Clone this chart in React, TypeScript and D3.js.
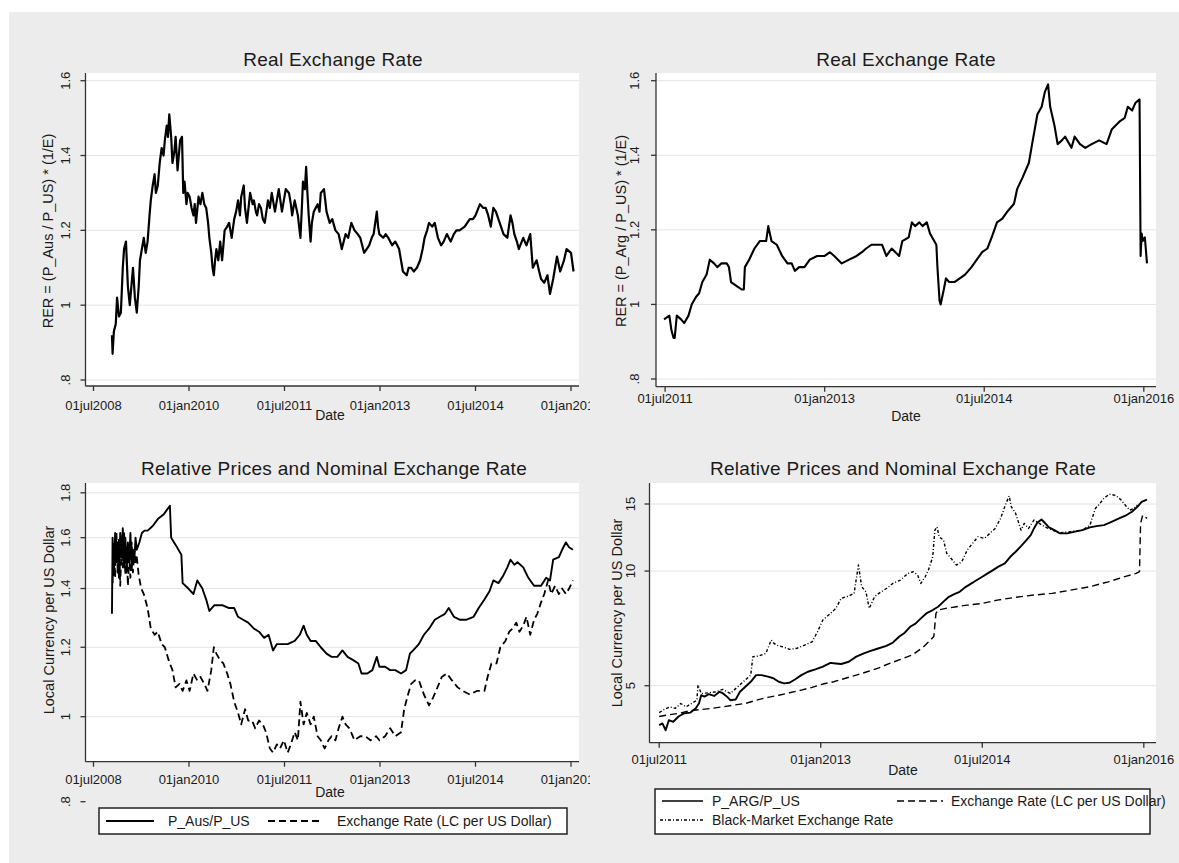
import React from "react";
import * as d3 from "d3";

type Pt = [number, number];

const FONT = "'Liberation Sans', Arial, Helvetica, sans-serif";
const INK = "#1a1a1a";

// ---------- Data (decimal year, value) ----------
const ausRER: Pt[] = [
  [2008.79,0.92],[2008.80,0.87],[2008.82,0.93],[2008.85,0.95],[2008.87,1.02],[2008.90,0.97],[2008.93,0.98],[2008.96,1.10],[2008.98,1.15],[2009.01,1.17],
  [2009.04,1.05],[2009.07,1.00],[2009.10,1.06],[2009.12,1.10],[2009.15,1.02],[2009.18,0.98],[2009.21,1.05],[2009.23,1.12],[2009.26,1.15],[2009.29,1.18],
  [2009.32,1.14],[2009.35,1.17],[2009.38,1.24],[2009.40,1.28],[2009.43,1.32],[2009.46,1.35],[2009.48,1.30],[2009.51,1.32],[2009.54,1.38],[2009.57,1.42],
  [2009.60,1.40],[2009.62,1.44],[2009.65,1.48],[2009.67,1.45],[2009.69,1.51],[2009.72,1.45],[2009.74,1.38],[2009.77,1.41],[2009.79,1.45],[2009.82,1.36],
  [2009.84,1.40],[2009.86,1.44],[2009.89,1.45],[2009.91,1.30],[2009.93,1.33],[2009.96,1.27],[2009.98,1.30],[2010.01,1.29],[2010.04,1.26],[2010.07,1.24],
  [2010.09,1.27],[2010.11,1.22],[2010.15,1.29],[2010.18,1.27],[2010.21,1.30],[2010.24,1.27],[2010.27,1.26],[2010.30,1.22],[2010.32,1.18],[2010.35,1.14],
  [2010.37,1.10],[2010.39,1.08],[2010.41,1.12],[2010.43,1.15],[2010.46,1.12],[2010.49,1.17],[2010.52,1.12],[2010.56,1.20],[2010.60,1.21],[2010.63,1.22],
  [2010.67,1.18],[2010.71,1.23],[2010.74,1.25],[2010.77,1.28],[2010.80,1.24],[2010.82,1.29],[2010.86,1.32],[2010.88,1.26],[2010.91,1.22],[2010.96,1.30],
  [2011.00,1.27],[2011.02,1.28],[2011.05,1.25],[2011.07,1.24],[2011.10,1.27],[2011.13,1.26],[2011.16,1.23],[2011.19,1.22],[2011.24,1.28],[2011.27,1.26],
  [2011.30,1.30],[2011.35,1.25],[2011.38,1.28],[2011.41,1.31],[2011.46,1.25],[2011.49,1.28],[2011.52,1.31],[2011.57,1.30],[2011.60,1.27],[2011.62,1.24],
  [2011.66,1.28],[2011.71,1.24],[2011.75,1.18],[2011.77,1.25],[2011.79,1.33],[2011.82,1.31],[2011.84,1.37],[2011.86,1.30],[2011.88,1.24],[2011.91,1.17],
  [2011.93,1.22],[2011.96,1.25],[2012.02,1.27],[2012.05,1.25],[2012.07,1.30],[2012.12,1.31],[2012.14,1.28],[2012.16,1.25],[2012.21,1.22],[2012.25,1.23],
  [2012.30,1.20],[2012.35,1.19],[2012.40,1.15],[2012.43,1.17],[2012.46,1.19],[2012.50,1.18],[2012.55,1.22],[2012.60,1.20],[2012.65,1.19],[2012.69,1.18],
  [2012.72,1.16],[2012.75,1.14],[2012.79,1.15],[2012.83,1.16],[2012.87,1.18],[2012.90,1.19],[2012.95,1.25],[2012.97,1.21],[2012.99,1.19],[2013.05,1.18],
  [2013.09,1.19],[2013.13,1.18],[2013.16,1.17],[2013.19,1.16],[2013.24,1.17],[2013.30,1.15],[2013.33,1.12],[2013.36,1.09],[2013.42,1.08],[2013.45,1.10],
  [2013.49,1.10],[2013.53,1.09],[2013.58,1.10],[2013.63,1.12],[2013.67,1.15],[2013.70,1.18],[2013.74,1.20],[2013.77,1.22],[2013.82,1.21],[2013.86,1.22],
  [2013.91,1.18],[2013.96,1.16],[2014.00,1.17],[2014.05,1.19],[2014.11,1.17],[2014.16,1.19],[2014.20,1.20],[2014.25,1.20],[2014.33,1.21],[2014.37,1.22],
  [2014.41,1.23],[2014.46,1.23],[2014.50,1.24],[2014.57,1.27],[2014.62,1.26],[2014.66,1.26],[2014.70,1.24],[2014.74,1.21],[2014.78,1.26],[2014.82,1.25],
  [2014.86,1.23],[2014.90,1.21],[2014.94,1.19],[2015.00,1.18],[2015.05,1.24],[2015.08,1.22],[2015.11,1.19],[2015.15,1.17],[2015.18,1.15],[2015.25,1.18],
  [2015.30,1.16],[2015.36,1.19],[2015.40,1.10],[2015.46,1.12],[2015.50,1.09],[2015.53,1.07],[2015.58,1.06],[2015.63,1.08],[2015.67,1.03],[2015.72,1.07],
  [2015.78,1.13],[2015.83,1.09],[2015.89,1.12],[2015.93,1.15],[2016.00,1.14],[2016.04,1.09],
];

const argRER: Pt[] = [
  [2011.49,0.96],[2011.54,0.97],[2011.56,0.93],[2011.58,0.91],[2011.59,0.91],[2011.61,0.97],[2011.65,0.96],[2011.68,0.95],[2011.72,0.97],[2011.75,1.00],
  [2011.79,1.02],[2011.82,1.03],[2011.85,1.06],[2011.89,1.08],[2011.92,1.12],[2011.96,1.11],[2011.99,1.10],[2012.03,1.11],[2012.08,1.11],[2012.10,1.10],
  [2012.12,1.06],[2012.17,1.05],[2012.22,1.04],[2012.24,1.04],[2012.25,1.10],[2012.29,1.12],[2012.34,1.15],[2012.39,1.17],[2012.45,1.17],[2012.47,1.21],
  [2012.50,1.17],[2012.55,1.16],[2012.60,1.13],[2012.65,1.11],[2012.69,1.11],[2012.72,1.09],[2012.76,1.10],[2012.81,1.10],[2012.86,1.12],[2012.93,1.13],
  [2013.00,1.13],[2013.05,1.14],[2013.09,1.13],[2013.16,1.11],[2013.23,1.12],[2013.30,1.13],[2013.35,1.14],[2013.39,1.15],[2013.44,1.16],[2013.49,1.16],
  [2013.54,1.16],[2013.58,1.13],[2013.63,1.15],[2013.70,1.13],[2013.73,1.17],[2013.79,1.18],[2013.82,1.22],[2013.85,1.21],[2013.89,1.22],[2013.92,1.21],
  [2013.96,1.22],[2013.99,1.19],[2014.05,1.16],[2014.06,1.10],[2014.08,1.01],[2014.09,1.00],[2014.12,1.04],[2014.14,1.07],[2014.17,1.06],[2014.22,1.06],
  [2014.27,1.07],[2014.32,1.08],[2014.38,1.10],[2014.43,1.12],[2014.48,1.14],[2014.53,1.15],[2014.57,1.18],[2014.62,1.22],[2014.67,1.23],[2014.72,1.25],
  [2014.78,1.27],[2014.81,1.31],[2014.86,1.34],[2014.92,1.38],[2014.95,1.43],[2015.00,1.51],[2015.04,1.53],[2015.07,1.57],[2015.10,1.59],[2015.12,1.53],
  [2015.16,1.48],[2015.19,1.43],[2015.23,1.44],[2015.26,1.45],[2015.32,1.42],[2015.35,1.45],[2015.40,1.43],[2015.45,1.42],[2015.51,1.43],[2015.58,1.44],
  [2015.65,1.43],[2015.70,1.47],[2015.77,1.49],[2015.82,1.50],[2015.85,1.53],[2015.89,1.52],[2015.92,1.54],[2015.96,1.55],[2015.97,1.13],[2015.98,1.19],
  [2015.99,1.17],[2016.01,1.18],[2016.03,1.11],
];

const ausRelPrice: Pt[] = [
  [2008.79,1.31],[2008.80,1.60],[2008.82,1.45],[2008.84,1.62],[2008.86,1.50],[2008.88,1.58],[2008.90,1.44],[2008.92,1.62],[2008.94,1.52],[2008.96,1.64],
  [2008.98,1.48],[2009.00,1.60],[2009.02,1.46],[2009.04,1.58],[2009.06,1.50],[2009.08,1.62],[2009.10,1.47],[2009.12,1.55],[2009.14,1.50],[2009.16,1.60],
  [2009.18,1.55],[2009.22,1.58],[2009.26,1.62],[2009.30,1.63],[2009.35,1.63],[2009.43,1.65],[2009.51,1.68],[2009.60,1.70],[2009.65,1.72],[2009.70,1.74],
  [2009.72,1.60],[2009.79,1.57],[2009.88,1.53],[2009.90,1.42],[2009.99,1.40],[2010.07,1.38],[2010.13,1.43],[2010.21,1.40],[2010.27,1.36],[2010.32,1.32],
  [2010.40,1.34],[2010.52,1.34],[2010.63,1.33],[2010.71,1.33],[2010.77,1.30],[2010.85,1.29],[2010.93,1.28],[2011.02,1.26],[2011.10,1.25],[2011.18,1.23],
  [2011.25,1.24],[2011.32,1.19],[2011.38,1.21],[2011.46,1.21],[2011.55,1.21],[2011.66,1.22],[2011.74,1.24],[2011.80,1.27],[2011.85,1.24],[2011.91,1.22],
  [2011.99,1.22],[2012.07,1.20],[2012.16,1.18],[2012.24,1.17],[2012.33,1.17],[2012.41,1.19],[2012.49,1.17],[2012.58,1.16],[2012.66,1.15],[2012.71,1.12],
  [2012.80,1.12],[2012.88,1.13],[2012.95,1.17],[2012.99,1.14],[2013.08,1.14],[2013.16,1.13],[2013.24,1.13],[2013.33,1.12],[2013.41,1.13],[2013.47,1.18],
  [2013.52,1.19],[2013.61,1.21],[2013.69,1.24],[2013.77,1.26],[2013.86,1.29],[2013.94,1.30],[2014.02,1.31],[2014.08,1.33],[2014.16,1.30],[2014.25,1.29],
  [2014.36,1.29],[2014.47,1.30],[2014.55,1.33],[2014.64,1.36],[2014.72,1.39],[2014.78,1.43],[2014.86,1.42],[2014.94,1.45],[2015.00,1.48],[2015.05,1.51],
  [2015.11,1.49],[2015.16,1.50],[2015.25,1.48],[2015.33,1.44],[2015.42,1.41],[2015.53,1.41],[2015.61,1.44],[2015.67,1.43],[2015.72,1.51],[2015.81,1.52],
  [2015.86,1.55],[2015.92,1.58],[2015.97,1.56],[2016.03,1.55],
];

const ausExchange: Pt[] = [
  [2008.80,1.42],[2008.82,1.58],[2008.84,1.44],[2008.86,1.62],[2008.88,1.46],[2008.90,1.60],[2008.92,1.41],[2008.94,1.56],[2008.96,1.48],[2008.98,1.63],
  [2009.00,1.45],[2009.02,1.56],[2009.04,1.41],[2009.06,1.52],[2009.08,1.44],[2009.10,1.58],[2009.12,1.46],[2009.14,1.55],[2009.16,1.50],[2009.18,1.52],
  [2009.21,1.45],[2009.25,1.40],[2009.29,1.38],[2009.35,1.33],[2009.40,1.26],[2009.46,1.24],[2009.51,1.25],[2009.57,1.21],[2009.62,1.20],[2009.68,1.16],
  [2009.74,1.13],[2009.79,1.08],[2009.85,1.09],[2009.90,1.07],[2009.96,1.10],[2010.01,1.07],[2010.07,1.12],[2010.13,1.10],[2010.18,1.11],[2010.24,1.09],
  [2010.29,1.07],[2010.35,1.13],[2010.39,1.20],[2010.43,1.18],[2010.49,1.16],[2010.54,1.15],[2010.60,1.12],[2010.65,1.09],[2010.71,1.04],[2010.77,1.01],
  [2010.82,0.98],[2010.88,1.02],[2010.93,0.99],[2010.99,0.99],[2011.04,0.97],[2011.10,0.99],[2011.16,0.98],[2011.21,0.96],[2011.27,0.92],[2011.32,0.91],
  [2011.38,0.93],[2011.43,0.92],[2011.49,0.94],[2011.55,0.91],[2011.60,0.93],[2011.66,0.96],[2011.71,0.94],[2011.75,1.04],[2011.80,0.98],[2011.85,1.01],
  [2011.91,0.98],[2011.96,1.00],[2012.02,0.95],[2012.07,0.94],[2012.13,0.92],[2012.19,0.94],[2012.24,0.95],[2012.30,0.94],[2012.35,0.97],[2012.41,1.00],
  [2012.46,0.98],[2012.52,0.97],[2012.60,0.94],[2012.69,0.95],[2012.77,0.95],[2012.85,0.94],[2012.94,0.95],[2012.99,0.94],[2013.08,0.95],[2013.16,0.97],
  [2013.24,0.95],[2013.33,0.96],[2013.38,1.02],[2013.44,1.06],[2013.49,1.09],[2013.55,1.10],[2013.61,1.10],[2013.69,1.06],[2013.77,1.03],[2013.83,1.05],
  [2013.88,1.07],[2013.97,1.11],[2014.05,1.12],[2014.13,1.10],[2014.22,1.08],[2014.30,1.07],[2014.41,1.06],[2014.52,1.07],[2014.64,1.07],[2014.69,1.11],
  [2014.75,1.15],[2014.83,1.15],[2014.89,1.20],[2014.97,1.22],[2015.03,1.25],[2015.08,1.26],[2015.14,1.28],[2015.19,1.25],[2015.25,1.27],[2015.30,1.30],
  [2015.36,1.24],[2015.42,1.29],[2015.47,1.31],[2015.53,1.35],[2015.58,1.38],[2015.64,1.43],[2015.69,1.38],[2015.75,1.41],[2015.81,1.38],[2015.86,1.40],
  [2015.92,1.38],[2015.97,1.40],[2016.03,1.43],
];

const argRelPrice: Pt[] = [
  [2011.50,3.94],[2011.53,3.98],[2011.56,3.82],[2011.59,4.06],[2011.63,4.02],[2011.68,4.15],[2011.73,4.23],[2011.79,4.25],[2011.84,4.36],[2011.87,4.50],
  [2011.89,4.72],[2011.92,4.68],[2011.96,4.75],[2012.01,4.70],[2012.06,4.82],[2012.09,4.78],[2012.13,4.68],[2012.16,4.58],[2012.21,4.60],[2012.25,4.82],
  [2012.30,4.97],[2012.35,5.12],[2012.40,5.33],[2012.45,5.33],[2012.51,5.28],[2012.56,5.23],[2012.61,5.12],[2012.66,5.07],[2012.71,5.09],[2012.76,5.19],
  [2012.82,5.33],[2012.88,5.44],[2012.95,5.52],[2013.02,5.61],[2013.09,5.74],[2013.14,5.72],[2013.19,5.70],[2013.26,5.78],[2013.33,5.96],[2013.40,6.08],
  [2013.47,6.18],[2013.54,6.27],[2013.61,6.36],[2013.67,6.49],[2013.73,6.73],[2013.78,6.89],[2013.83,7.14],[2013.88,7.28],[2013.93,7.51],[2013.98,7.74],
  [2014.04,7.90],[2014.09,8.06],[2014.14,8.31],[2014.19,8.56],[2014.24,8.70],[2014.29,8.82],[2014.34,9.06],[2014.40,9.28],[2014.45,9.47],[2014.50,9.66],
  [2014.55,9.86],[2014.60,10.06],[2014.65,10.27],[2014.71,10.47],[2014.76,10.90],[2014.81,11.24],[2014.86,11.63],[2014.91,12.06],[2014.95,12.43],[2014.98,12.94],
  [2015.01,13.39],[2015.05,13.66],[2015.08,13.39],[2015.12,13.02],[2015.17,12.81],[2015.22,12.56],[2015.29,12.56],[2015.36,12.69],[2015.43,12.81],[2015.50,13.02],
  [2015.56,13.12],[2015.63,13.20],[2015.70,13.47],[2015.77,13.75],[2015.84,14.03],[2015.89,14.31],[2015.94,14.75],[2015.98,15.20],[2016.03,15.40],
];

const argExchange: Pt[] = [
  [2011.50,4.15],[2011.58,4.19],[2011.68,4.23],[2011.79,4.30],[2011.89,4.33],[2011.99,4.36],[2012.09,4.40],[2012.20,4.45],[2012.30,4.49],[2012.40,4.58],
  [2012.51,4.66],[2012.61,4.72],[2012.71,4.79],[2012.82,4.87],[2012.92,4.95],[2013.02,5.05],[2013.12,5.12],[2013.23,5.23],[2013.33,5.33],[2013.43,5.44],
  [2013.54,5.57],[2013.64,5.72],[2013.74,5.86],[2013.85,6.02],[2013.95,6.31],[2014.02,6.59],[2014.05,6.73],[2014.07,7.74],[2014.09,7.90],[2014.16,7.98],
  [2014.26,8.06],[2014.36,8.14],[2014.50,8.22],[2014.64,8.39],[2014.81,8.53],[2014.98,8.65],[2015.15,8.74],[2015.32,8.91],[2015.50,9.10],[2015.67,9.37],
  [2015.84,9.70],[2015.93,9.86],[2015.96,9.96],[2015.97,13.34],[2015.99,14.03],[2016.03,13.75],
];

const argBlackMarket: Pt[] = [
  [2011.50,4.25],[2011.54,4.32],[2011.60,4.40],[2011.65,4.36],[2011.70,4.49],[2011.75,4.40],[2011.80,4.49],[2011.85,4.58],[2011.86,5.02],[2011.89,4.77],
  [2011.96,4.79],[2012.03,4.82],[2012.09,4.89],[2012.16,4.77],[2012.23,4.97],[2012.30,5.18],[2012.35,5.33],[2012.37,5.96],[2012.42,5.98],[2012.49,6.08],
  [2012.54,6.59],[2012.56,6.48],[2012.59,6.39],[2012.64,6.33],[2012.71,6.23],[2012.78,6.27],[2012.85,6.39],[2012.92,6.52],[2012.97,6.93],[2013.02,7.44],
  [2013.09,7.74],[2013.14,7.98],[2013.19,8.48],[2013.26,8.60],[2013.31,8.74],[2013.35,10.37],[2013.38,9.10],[2013.42,8.82],[2013.45,7.98],[2013.50,8.56],
  [2013.54,8.74],[2013.61,9.00],[2013.67,9.28],[2013.74,9.47],[2013.81,9.86],[2013.86,9.96],[2013.90,9.76],[2013.93,9.28],[2013.97,9.66],[2014.00,10.06],
  [2014.04,10.90],[2014.06,12.81],[2014.08,13.06],[2014.10,12.30],[2014.14,12.06],[2014.17,11.13],[2014.21,10.80],[2014.26,10.37],[2014.31,10.58],[2014.36,11.35],
  [2014.41,11.82],[2014.46,12.30],[2014.52,12.19],[2014.57,12.56],[2014.62,12.94],[2014.67,13.75],[2014.72,15.05],[2014.75,15.74],[2014.77,14.75],[2014.81,14.17],
  [2014.84,13.34],[2014.86,12.81],[2014.89,13.34],[2014.93,12.94],[2014.98,13.61],[2015.03,13.34],[2015.08,13.06],[2015.15,12.81],[2015.22,12.60],[2015.32,12.69],
  [2015.43,12.81],[2015.50,13.20],[2015.55,14.60],[2015.58,14.90],[2015.63,15.52],[2015.68,15.92],[2015.74,15.80],[2015.79,15.36],[2015.84,14.75],[2015.87,14.46],
  [2015.91,14.60],[2015.94,14.90],
];

// ---------- Ticks ----------
const ausXTicks = [2008.5, 2010, 2011.5, 2013, 2014.5, 2016];
const ausXTickLabels = ["01jul2008", "01jan2010", "01jul2011", "01jan2013", "01jul2014", "01jan2016"];
const argXTicks = [2011.5, 2013, 2014.5, 2016];
const argXTickLabels = ["01jul2011", "01jan2013", "01jul2014", "01jan2016"];
const rerYTicks = [0.8, 1, 1.2, 1.4, 1.6];
const rerYTickLabels = [".8", "1", "1.2", "1.4", "1.6"];
const ausPriceYTicks = [0.8, 1, 1.2, 1.4, 1.6, 1.8];
const ausPriceYTickLabels = [".8", "1", "1.2", "1.4", "1.6", "1.8"];
const argPriceYTicks = [5, 10, 15];
const argPriceYTickLabels = ["5", "10", "15"];

const legendAus = ["P_Aus/P_US", "Exchange Rate (LC per US Dollar)"];
const legendArg = ["P_ARG/P_US", "Exchange Rate (LC per US Dollar)", "Black-Market Exchange Rate"];

interface Series { data: Pt[]; dash?: string; width: number }
interface PanelProps {
  id: string;
  clip: [number, number, number, number];
  plot: { l: number; r: number; t: number; b: number };
  x: (v: number) => number;
  y: (v: number) => number;
  xTicks: number[]; xTickLabels: string[];
  yTicks: number[]; yTickLabels: string[];
  series: Series[];
  title: string; titleX: number; titleY: number;
  yTitle: string; yTitleX: number; yTitleY: number;
  yTickLabelX: number;
  xTickLabelY: number; dateX: number; dateY: number;
}

function Panel(p: PanelProps) {
  const line = d3.line<Pt>().x((d) => p.x(d[0])).y((d) => p.y(d[1]));
  const [cx, cy, cw, ch] = p.clip;
  return (
    <g>
      <defs>
        <clipPath id={p.id}><rect x={cx} y={cy} width={cw} height={ch} /></clipPath>
      </defs>
      <g clipPath={`url(#${p.id})`}>
        <rect x={p.plot.l} y={p.plot.t} width={p.plot.r - p.plot.l} height={p.plot.b - p.plot.t} fill="#ffffff" />
        {p.yTicks.map((t) => {
          const yy = p.y(t);
          if (yy < p.plot.t - 0.5 || yy > p.plot.b + 0.5) return null;
          return <line key={"g" + t} x1={p.plot.l} x2={p.plot.r} y1={yy} y2={yy} stroke="#e4e4e4" strokeWidth={1} />;
        })}
        {p.series.map((s, i) => (
          <path key={i} d={line(s.data) || ""} fill="none" stroke="#000" strokeWidth={s.width}
            strokeDasharray={s.dash} strokeLinejoin="round" />
        ))}
        <line x1={p.plot.l} x2={p.plot.l} y1={p.plot.t} y2={p.plot.b} stroke="#333" strokeWidth={1.3} />
        <line x1={p.plot.l} x2={p.plot.r} y1={p.plot.b} y2={p.plot.b} stroke="#333" strokeWidth={1.3} />
        {p.xTicks.map((t, i) => (
          <g key={"x" + t}>
            <line x1={p.x(t)} x2={p.x(t)} y1={p.plot.b} y2={p.plot.b + 5} stroke="#333" strokeWidth={1.3} />
            <text x={p.x(t)} y={p.xTickLabelY} textAnchor="middle" fontSize={13} fill={INK} fontFamily={FONT}>{p.xTickLabels[i]}</text>
          </g>
        ))}
        {p.yTicks.map((t, i) => (
          <g key={"y" + t}>
            <line x1={p.plot.l - 5} x2={p.plot.l} y1={p.y(t)} y2={p.y(t)} stroke="#333" strokeWidth={1.3} />
            <text transform={`translate(${p.yTickLabelX},${p.y(t)}) rotate(-90)`} textAnchor="middle" dominantBaseline="central"
              fontSize={13} fill={INK} fontFamily={FONT}>{p.yTickLabels[i]}</text>
          </g>
        ))}
        <text x={p.titleX} y={p.titleY} textAnchor="middle" fontSize={19} letterSpacing={0.3} fill={INK} fontFamily={FONT}>{p.title}</text>
        <text x={p.dateX} y={p.dateY} textAnchor="middle" fontSize={14} fill={INK} fontFamily={FONT}>Date</text>
        <text transform={`translate(${p.yTitleX},${p.yTitleY}) rotate(-90)`} textAnchor="middle" dominantBaseline="central"
          fontSize={14.5} fill={INK} fontFamily={FONT}>{p.yTitle}</text>
      </g>
    </g>
  );
}

export default function App() {
  const W = 1179, H = 863;
  const xAus = d3.scaleLinear().domain([2008.5, 2016]).range([93.5, 571]);
  const xArgTop = d3.scaleLinear().domain([2011.5, 2016]).range([665.1, 1143.8]);
  const xArgBot = d3.scaleLinear().domain([2011.5, 2016]).range([659.2, 1143.8]);
  const yRerAus = d3.scaleLinear().domain([0.8, 1.6]).range([380, 80.7]);
  const yRerArg = d3.scaleLinear().domain([0.8, 1.6]).range([379, 80.7]);
  const yPriceAus = d3.scaleLog().domain([0.8, 1.8]).range([801.7, 492.8]);
  const yPriceArg = d3.scaleLog().domain([5, 15]).range([685.7, 504]);

  return (
    <svg width={W} height={H} viewBox={`0 0 ${W} ${H}`} style={{ position: "absolute", left: 0, top: 0, display: "block" }}>
      <rect x={0} y={0} width={W} height={H} fill="#ffffff" />
      <rect x={9} y={12} width={W - 9} height={H - 12} fill="#ececec" />

      <Panel id="c1" clip={[9, 12, 581, 420]} plot={{ l: 85.5, r: 579, t: 73, b: 386 }}
        x={xAus} y={yRerAus} xTicks={ausXTicks} xTickLabels={ausXTickLabels}
        yTicks={rerYTicks} yTickLabels={rerYTickLabels}
        series={[{ data: ausRER, width: 2.2 }]}
        title="Real Exchange Rate" titleX={333} titleY={66}
        yTitle="RER = (P_Aus / P_US) * (1/E)" yTitleX={48} yTitleY={231}
        yTickLabelX={65} xTickLabelY={410} dateX={330} dateY={420} />

      <Panel id="c2" clip={[590, 12, 589, 420]} plot={{ l: 656, r: 1156, t: 73, b: 386.7 }}
        x={xArgTop} y={yRerArg} xTicks={argXTicks} xTickLabels={argXTickLabels}
        yTicks={rerYTicks} yTickLabels={rerYTickLabels}
        series={[{ data: argRER, width: 2.1 }]}
        title="Real Exchange Rate" titleX={906} titleY={66}
        yTitle="RER = (P_Arg / P_US) * (1/E)" yTitleX={621} yTitleY={231}
        yTickLabelX={634} xTickLabelY={403} dateX={906} dateY={421} />

      <Panel id="c3" clip={[9, 432, 581, 431]} plot={{ l: 85.5, r: 579, t: 483, b: 761.7 }}
        x={xAus} y={yPriceAus} xTicks={ausXTicks} xTickLabels={ausXTickLabels}
        yTicks={ausPriceYTicks} yTickLabels={ausPriceYTickLabels}
        series={[{ data: ausRelPrice, width: 1.9 }, { data: ausExchange, width: 1.8, dash: "7,4" }]}
        title="Relative Prices and Nominal Exchange Rate" titleX={334} titleY={475}
        yTitle="Local Currency per US Dollar" yTitleX={49} yTitleY={620}
        yTickLabelX={65} xTickLabelY={784} dateX={330} dateY={797} />

      <Panel id="c4" clip={[590, 432, 589, 431]} plot={{ l: 649.5, r: 1156, t: 483, b: 742.7 }}
        x={xArgBot} y={yPriceArg} xTicks={argXTicks} xTickLabels={argXTickLabels}
        yTicks={argPriceYTicks} yTickLabels={argPriceYTickLabels}
        series={[
          { data: argRelPrice, width: 1.9 },
          { data: argExchange, width: 1.4, dash: "7,4" },
          { data: argBlackMarket, width: 1.4, dash: "3,2,1,2" },
        ]}
        title="Relative Prices and Nominal Exchange Rate" titleX={903} titleY={475}
        yTitle="Local Currency per US Dollar" yTitleX={617} yTitleY={613}
        yTickLabelX={630} xTickLabelY={764} dateX={903} dateY={775} />

      {/* Legend bottom-left */}
      <g fontFamily={FONT} fontSize={14} fill={INK}>
        <rect x={99} y={808} width={468} height={26} fill="#fff" stroke="#222" strokeWidth={1.5} />
        <line x1={106} x2={154} y1={821} y2={821} stroke="#000" strokeWidth={1.8} />
        <text x={168} y={826}>{legendAus[0]}</text>
        <line x1={268} x2={323} y1={821} y2={821} stroke="#000" strokeWidth={1.8} strokeDasharray="7,4" />
        <text x={337} y={826}>{legendAus[1]}</text>
      </g>

      {/* Legend bottom-right */}
      <g fontFamily={FONT} fontSize={14} fill={INK}>
        <rect x={655} y={789} width={495} height={45} fill="#fff" stroke="#222" strokeWidth={1.5} />
        <line x1={662} x2={703} y1={801} y2={801} stroke="#000" strokeWidth={1.5} />
        <text x={712} y={806}>{legendArg[0]}</text>
        <line x1={897} x2={943} y1={801} y2={801} stroke="#000" strokeWidth={1.3} strokeDasharray="7,4" />
        <text x={951} y={806}>{legendArg[1]}</text>
        <line x1={660} x2={705} y1={820} y2={820} stroke="#000" strokeWidth={1.3} strokeDasharray="3,2,1,2" />
        <text x={712} y={825}>{legendArg[2]}</text>
      </g>
    </svg>
  );
}
